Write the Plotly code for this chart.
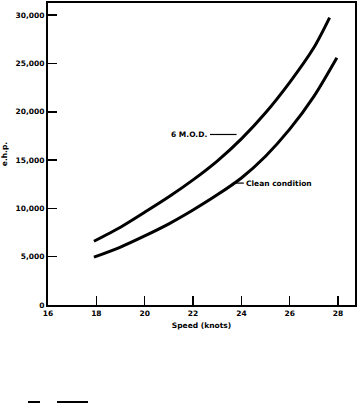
import plotly.graph_objects as go

speed_mod = [17.9, 19, 20, 21, 22, 23, 24, 25, 26, 27, 27.65]
ehp_mod = [6600, 8050, 9600, 11200, 12950, 14900, 17200, 19900, 23050, 26650, 29750]

speed_clean = [17.9, 19, 20, 21, 22, 23, 24, 25, 26, 27, 27.95]
ehp_clean = [4950, 6000, 7150, 8400, 9830, 11400, 13150, 15400, 18200, 21600, 25600]

x_ticks = [16, 18, 20, 22, 24, 26, 28]
y_ticks = [0, 5000, 10000, 15000, 20000, 25000, 30000]
y_tick_text = ["0", "5,000", "10,000", "15,000", "20,000", "25,000", "30,000"]

FONT = "DejaVu Sans"
TF = dict(family=FONT, size=7.5, color="black", weight="bold")

fig = go.Figure()
fig.add_trace(go.Scatter(x=speed_mod, y=ehp_mod, mode="lines",
                         line=dict(color="black", width=3, shape="spline", smoothing=0.8),
                         showlegend=False, hoverinfo="skip"))
fig.add_trace(go.Scatter(x=speed_clean, y=ehp_clean, mode="lines",
                         line=dict(color="black", width=3, shape="spline", smoothing=0.8),
                         showlegend=False, hoverinfo="skip"))

# label leader lines
fig.add_shape(type="line", xref="x", yref="y", x0=22.7, x1=23.8, y0=17650, y1=17650,
              line=dict(color="black", width=1.2))
fig.add_shape(type="line", xref="x", yref="y", x0=23.65, x1=24.1, y0=12620, y1=12620,
              line=dict(color="black", width=1.2))
fig.add_annotation(x=22.68, y=17650, xref="x", yref="y", text="6 M.O.D.", showarrow=False,
                   xanchor="right", yanchor="middle", font=TF)
fig.add_annotation(x=24.12, y=12620, xref="x", yref="y", text="Clean condition", showarrow=False,
                   xanchor="left", yanchor="middle", font=TF)

# scan marks at bottom
fig.add_shape(type="line", xref="paper", yref="paper", x0=(28-48)/307, x1=(40-48)/307,
              y0=-97/302, y1=-97/302, line=dict(color="black", width=2))
fig.add_shape(type="line", xref="paper", yref="paper", x0=(57-48)/307, x1=(88-48)/307,
              y0=-97/302, y1=-97/302, line=dict(color="black", width=2))

fig.update_layout(
    width=358, height=403,
    margin=dict(l=48, r=3, t=3, b=98, autoexpand=False),
    paper_bgcolor="white", plot_bgcolor="white",
    font=dict(family=FONT, size=8, color="black"),
    hovermode=False,
    xaxis=dict(range=[16, 28.7], tickvals=x_ticks, ticktext=[str(v) for v in x_ticks],
               ticks="inside", ticklen=9, tickwidth=1.5, tickcolor="black",
               showline=True, linecolor="black", linewidth=2, mirror=True,
               showgrid=False, zeroline=False, automargin=False,
               tickfont=TF,
               title=dict(text="Speed (knots)", font=TF, standoff=6)),
    yaxis=dict(range=[0, 31260], tickvals=y_ticks, ticktext=y_tick_text,
               ticks="inside", ticklen=9, tickwidth=1.5, tickcolor="black",
               showline=True, linecolor="black", linewidth=2, mirror=True,
               showgrid=False, zeroline=False, automargin=False,
               tickfont=TF,
               title=dict(text="e.h.p.", font=TF, standoff=8)),
)

fig.write_html("out.html", config={"displayModeBar": False, "staticPlot": True},
               post_script="document.body.style.margin='0';")
